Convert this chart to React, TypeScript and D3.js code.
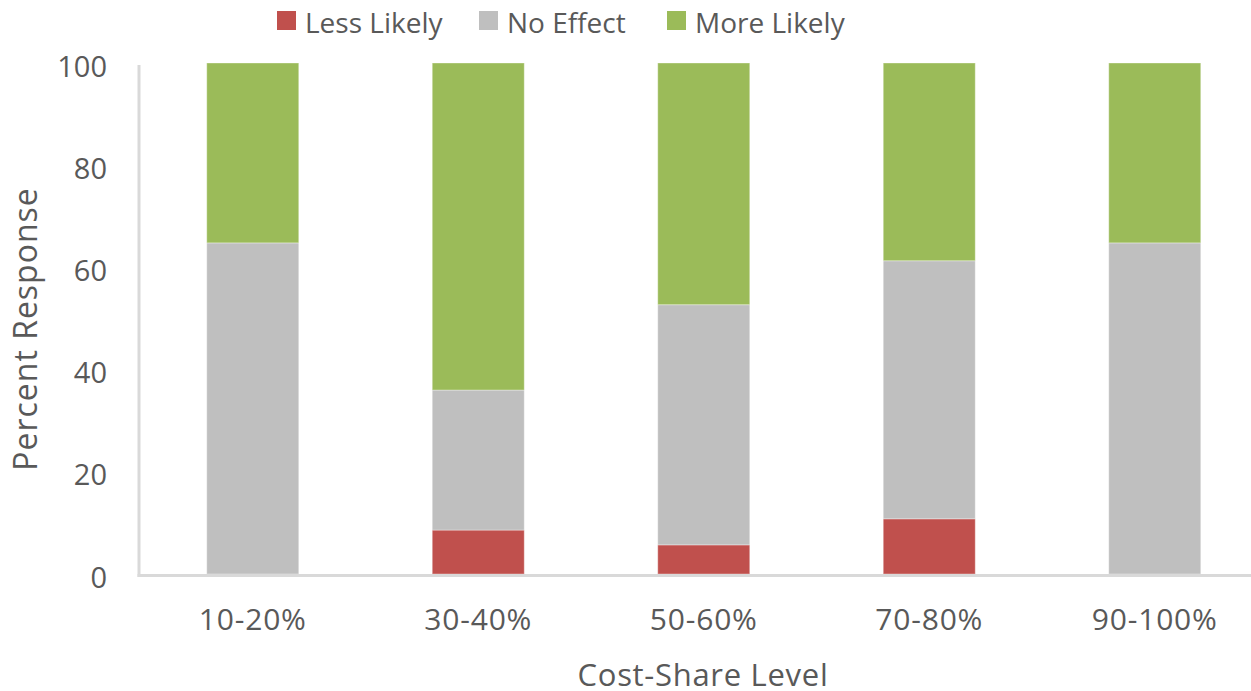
import * as d3 from "d3";

const categories = ["10-20%", "30-40%", "50-60%", "70-80%", "90-100%"];
const lessLikely = [0, 8.6, 5.7, 10.8, 0];
const noEffect = [64.8, 27.4, 47.0, 50.5, 64.8];
const moreLikely = [35.2, 64.0, 47.3, 38.7, 35.2];
const seriesNames = ["Less Likely", "No Effect", "More Likely"];
const colors = ["#C0504D", "#BFBFBF", "#9BBB59"];
const yTicks = [0, 20, 40, 60, 80, 100];

const width = 1251;
const height = 691;
const font = "'Open Sans', sans-serif";
const textColor = "#595959";
const axisColor = "#D9D9D9";

export default function App() {
  const rows = categories.map((c, i) => ({
    cat: c,
    "Less Likely": lessLikely[i],
    "No Effect": noEffect[i],
    "More Likely": moreLikely[i],
  }));
  const stacked = d3.stack<any>().keys(seriesNames)(rows);

  const x = d3
    .scaleBand()
    .domain(categories)
    .range([140, 1267.5])
    .paddingInner(0.592)
    .paddingOuter(0.296);
  const y = d3.scaleLinear().domain([0, 100]).range([574, 63]);

  // legend layout: square x, text x
  const legendItems = [
    { sq: 277, tx: 305 },
    { sq: 479, tx: 507 },
    { sq: 667, tx: 695 },
  ];

  return (
    <div style={{ position: "absolute", left: 0, top: 0 }}>
      <svg width={width} height={height} style={{ display: "block" }}>
        <rect width={width} height={height} fill="#fff" />

        {/* stacked bars */}
        {stacked.map((layer, si) => (
          <g key={layer.key} fill={colors[si]}>
            {layer.map((d, i) =>
              d[1] - d[0] > 0 ? (
                <rect
                  key={i}
                  x={x(categories[i])}
                  y={y(d[1])}
                  width={x.bandwidth()}
                  height={y(d[0]) - y(d[1])}
                  stroke="#ffffff"
                  strokeOpacity={0.35}
                  strokeWidth={1}
                />
              ) : null
            )}
          </g>
        ))}

        {/* axes lines */}
        <line x1={139} x2={139} y1={y(100) + 2} y2={y(0) + 3} stroke={axisColor} strokeWidth={3} />
        <line x1={137.5} x2={width} y1={y(0) + 1.5} y2={y(0) + 1.5} stroke={axisColor} strokeWidth={3} />

        {/* y tick labels */}
        {yTicks.map((t) => (
          <text
            key={t}
            x={107}
            y={y(t) + 2}
            textAnchor="end"
            dominantBaseline="central"
            fontFamily={font}
            fontSize={29}
            fill={textColor}
          >
            {t}
          </text>
        ))}

        {/* x tick labels */}
        {categories.map((c) => (
          <text
            key={c}
            x={(x(c) || 0) + x.bandwidth() / 2}
            y={630}
            textAnchor="middle"
            fontFamily={font}
            fontSize={30}
            letterSpacing={0.8}
            fill={textColor}
          >
            {c}
          </text>
        ))}

        {/* axis titles */}
        <text
          x={703}
          y={686}
          textAnchor="middle"
          fontFamily={font}
          fontSize={31}
          letterSpacing={0.7}
          fill={textColor}
        >
          Cost-Share Level
        </text>
        <text
          transform={`translate(37,329) rotate(-90)`}
          textAnchor="middle"
          fontFamily={font}
          fontSize={32}
          letterSpacing={1}
          fill={textColor}
        >
          Percent Response
        </text>

        {/* legend */}
        {seriesNames.map((s, i) => (
          <g key={s}>
            <rect x={legendItems[i].sq} y={11} width={19} height={19} fill={colors[i]} />
            <text
              x={legendItems[i].tx}
              y={33}
              fontFamily={font}
              fontSize={28}
              fill={textColor}
            >
              {s}
            </text>
          </g>
        ))}
      </svg>
    </div>
  );
}
